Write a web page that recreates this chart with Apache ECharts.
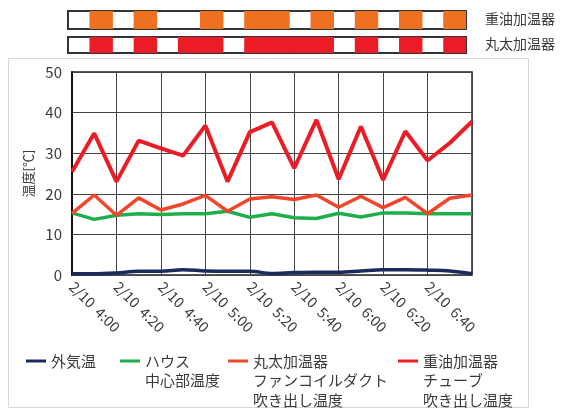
<!DOCTYPE html>
<html>
<head>
<meta charset="utf-8">
<script src="https://cdn.jsdelivr.net/npm/echarts@6/dist/echarts.min.js"></script>
<style>
  html, body { margin: 0; padding: 0; background: #fff; }
  #chart { width: 563px; height: 410px; }
</style>
</head>
<body>
<div id="chart"></div>
<script>
// 10-minute readings, 2/10 4:00 - 7:00
const times = [
  '2/10 4:00', '2/10 4:10', '2/10 4:20', '2/10 4:30', '2/10 4:40', '2/10 4:50',
  '2/10 5:00', '2/10 5:10', '2/10 5:20', '2/10 5:30', '2/10 5:40', '2/10 5:50',
  '2/10 6:00', '2/10 6:10', '2/10 6:20', '2/10 6:30', '2/10 6:40', '2/10 6:50',
  '2/10 7:00'
];
const outdoorTemp = [0.3, 0.3, 0.5, 0.9, 0.9, 1.3, 1.0, 0.9, 0.9, 0.4, 0.6, 0.7, 0.7, 1.0, 1.3, 1.3, 1.2, 1.0, 0.3];
const houseCenterTemp = [15.3, 13.7, 14.7, 15.1, 14.9, 15.1, 15.1, 15.7, 14.2, 15.1, 14.1, 13.9, 15.2, 14.3, 15.3, 15.3, 15.1, 15.1, 15.1];
const logHeaterDuctTemp = [15.2, 19.7, 14.7, 19.0, 16.0, 17.5, 19.6, 15.7, 18.7, 19.3, 18.6, 19.7, 16.7, 19.4, 16.6, 19.1, 15.1, 18.9, 19.7];
const oilHeaterTubeTemp = [25.4, 34.9, 23.0, 33.1, 31.2, 29.4, 36.8, 23.0, 35.2, 37.6, 26.3, 38.2, 23.6, 36.6, 23.4, 35.4, 28.2, 32.5, 37.8];

// heater running state per 10-minute slot (1 = on)
const slots = times.slice(0, 18);
const oilHeaterOn = [0, 1, 0, 1, 0, 0, 1, 0, 1, 1, 0, 1, 0, 1, 0, 1, 0, 1];
const logHeaterOn = [0, 1, 0, 1, 0, 1, 1, 0, 1, 1, 1, 1, 0, 1, 0, 1, 0, 1];

const seriesNames = ['外気温', 'ハウス中心部温度', '丸太加温器ファンコイルダクト吹き出し温度', '重油加温器チューブ吹き出し温度'];
const legendLines = [
  ['外気温'],
  ['ハウス', '中心部温度'],
  ['丸太加温器', 'ファンコイルダクト', '吹き出し温度'],
  ['重油加温器', 'チューブ', '吹き出し温度']
];
const colors = ['#1b2a5c', '#1eae4b', '#f2452a', '#ec1c27'];
const oilBarColor = '#f07021';
const logBarColor = '#ec1c27';

const FONT = '"Noto Sans CJK JP", "Noto Sans", sans-serif';
const TEXT = '#3a3a3a';
const LINE_H = 19.5;
const legendLeft = [26, 120, 228, 398];
const legendIconY = 361;

const chart = echarts.init(document.getElementById('chart'), null, { renderer: 'canvas' });

// one legend per series so each block sits at its own column;
// blank lines above keep the first text line level with the icon
const legends = seriesNames.map((name, i) => {
  const lines = legendLines[i];
  const pad = lines.length - 1;
  const text = '\n'.repeat(pad) + lines.join('\n');
  return {
    data: [name],
    left: legendLeft[i],
    top: legendIconY - (pad + 0.5) * LINE_H,
    padding: 0,
    icon: 'rect',
    itemWidth: 20,
    itemHeight: 3,
    selectedMode: false,
    formatter: () => text,
    textStyle: { fontFamily: FONT, fontSize: 15, color: TEXT, lineHeight: LINE_H }
  };
});

// slightly wider than the slot so consecutive "on" slots merge into one block
function onOffBars(name, axisIndex, data, color) {
  return {
    name, type: 'bar', xAxisIndex: axisIndex, yAxisIndex: axisIndex, data,
    barWidth: '106%', silent: true,
    itemStyle: { color }
  };
}

const option = {
  animation: false,
  backgroundColor: '#fff',
  textStyle: { fontFamily: FONT },
  legend: legends,
  graphic: [
    {
      type: 'rect', silent: true, z: -10,
      shape: { x: 8.5, y: 58.5, width: 520, height: 349 },
      style: { fill: 'none', stroke: '#d8d8d8', lineWidth: 1 }
    },
    {
      type: 'text', left: 485, top: 12,
      style: { text: '重油加温器', font: '14px ' + FONT, fill: TEXT }
    },
    {
      type: 'text', left: 485, top: 37,
      style: { text: '丸太加温器', font: '14px ' + FONT, fill: TEXT }
    }
  ],
  grid: [
    { left: 72, top: 72, width: 400, height: 203, show: true, borderColor: '#222', borderWidth: 1.5 },
    { left: 68, top: 11, width: 398, height: 18, show: true, borderColor: '#333', borderWidth: 2, backgroundColor: '#fff' },
    { left: 68, top: 37, width: 398, height: 16, show: true, borderColor: '#333', borderWidth: 2, backgroundColor: '#fff' }
  ],
  xAxis: [
    {
      gridIndex: 0, type: 'category', data: times, boundaryGap: false,
      axisLine: { show: false },
      axisTick: { show: false },
      axisLabel: {
        interval: 1, rotate: -45, margin: 9,
        fontFamily: FONT, fontSize: 14.5, color: TEXT,
        formatter: (v, idx) => (idx === times.length - 1 ? '' : v.replace(' ', '  '))
      },
      splitLine: { show: true, interval: 1, lineStyle: { color: '#444', width: 1 } }
    },
    { gridIndex: 1, type: 'category', data: slots, show: false },
    { gridIndex: 2, type: 'category', data: slots, show: false }
  ],
  yAxis: [
    {
      gridIndex: 0, type: 'value', min: 0, max: 50, interval: 10,
      name: '温度[℃]', nameLocation: 'middle', nameRotate: 90, nameGap: 31,
      nameTextStyle: { fontFamily: FONT, fontSize: 13, color: TEXT },
      axisLine: { show: true, lineStyle: { color: '#111', width: 2 } },
      axisTick: { show: false },
      axisLabel: { fontFamily: FONT, fontSize: 15, color: TEXT, margin: 10 },
      splitLine: { lineStyle: { color: '#444', width: 1 } }
    },
    { gridIndex: 1, type: 'value', min: 0, max: 1, show: false },
    { gridIndex: 2, type: 'value', min: 0, max: 1, show: false }
  ],
  series: [
    {
      name: seriesNames[0], type: 'line', data: outdoorTemp, smooth: 0.35,
      showSymbol: false, color: colors[0], lineStyle: { width: 3.5, color: colors[0] }, z: 3
    },
    {
      name: seriesNames[1], type: 'line', data: houseCenterTemp,
      showSymbol: false, color: colors[1], lineStyle: { width: 3.5, color: colors[1] }, z: 3
    },
    {
      name: seriesNames[2], type: 'line', data: logHeaterDuctTemp,
      showSymbol: false, color: colors[2], lineStyle: { width: 3.5, color: colors[2] }, z: 4
    },
    {
      name: seriesNames[3], type: 'line', data: oilHeaterTubeTemp,
      showSymbol: false, color: colors[3], lineStyle: { width: 4, color: colors[3] }, z: 5
    },
    onOffBars('重油加温器', 1, oilHeaterOn, oilBarColor),
    onOffBars('丸太加温器', 2, logHeaterOn, logBarColor)
  ]
};

chart.setOption(option);
</script>
</body>
</html>
